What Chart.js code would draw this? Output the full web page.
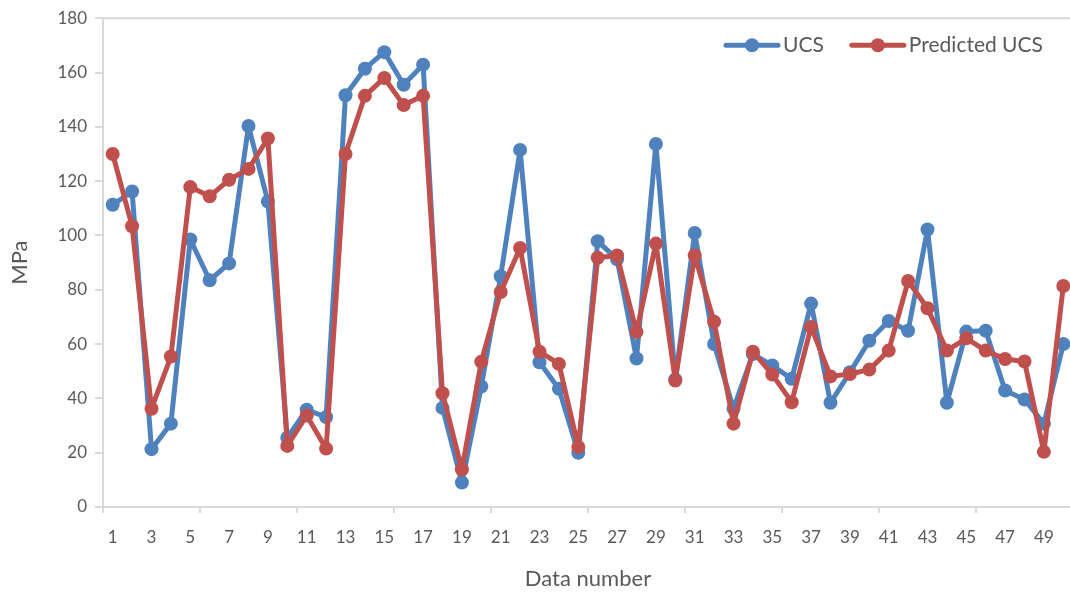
<!DOCTYPE html>
<html>
<head>
    <title>UCS vs Predicted UCS</title>
    <script src="https://cdn.jsdelivr.net/npm/chart.js"></script>
    <style>
        body { margin: 0; overflow: hidden; background: #fff; }
        #wrap { width: 1080px; height: 592px; }
    </style>
</head>
<body>
    <div id="wrap">
        <canvas id="ucsChart" width="1080" height="592"></canvas>
    </div>

    <script>
        // Data dari grafik
        const dataNumber = [1, 2, 3, 4, 5, 6, 7, 8, 9, 10, 11, 12, 13, 14, 15, 16, 17, 18, 19, 20,
            21, 22, 23, 24, 25, 26, 27, 28, 29, 30, 31, 32, 33, 34, 35, 36, 37, 38, 39, 40,
            41, 42, 43, 44, 45, 46, 47, 48, 49, 50];
        const ucs = [111.3, 116.2, 21.3, 30.7, 98.5, 83.5, 89.7, 140.3, 112.5, 25.5,
            35.8, 33.1, 151.6, 161.4, 167.5, 155.5, 162.9, 36.5, 9.0, 44.4,
            85.0, 131.5, 53.3, 43.5, 20.0, 97.9, 91.2, 54.7, 133.7, 47.0,
            100.9, 60.0, 36.2, 56.3, 52.1, 47.2, 74.9, 38.4, 49.6, 61.2,
            68.5, 64.9, 102.2, 38.4, 64.6, 64.9, 42.9, 39.6, 30.7, 60.0];
        const predictedUcs = [130.0, 103.4, 36.2, 55.4, 117.8, 114.4, 120.5, 124.5, 135.7, 22.5,
            33.7, 21.5, 130.0, 151.4, 158.0, 148.0, 151.4, 41.9, 13.8, 53.5,
            79.2, 95.4, 57.2, 52.7, 22.1, 91.8, 92.6, 64.5, 97.0, 46.6,
            92.6, 68.2, 30.7, 57.2, 48.8, 38.6, 66.3, 48.1, 49.0, 50.6,
            57.6, 83.2, 73.2, 57.6, 62.1, 57.6, 54.5, 53.6, 20.3, 81.4];

        const biru = '#4F81BD';
        const merah = '#C0504D';
        const abu = '#D9D9D9';
        const teks = '#595959';
        const huruf = 'Lato, "Liberation Sans", sans-serif';

        // garis atas area plot + legenda di pojok kanan atas
        const hiasan = {
            id: 'hiasan',
            afterDraw(chart) {
                const a = chart.chartArea;
                const c = chart.ctx;
                c.save();
                c.strokeStyle = abu;
                c.lineWidth = 2;
                c.beginPath();
                c.moveTo(a.left, a.top);
                c.lineTo(a.right, a.top);
                c.stroke();

                const y = a.top + 27;
                let x = a.right - 349;
                c.font = '21px ' + huruf;
                c.textBaseline = 'middle';
                chart.data.datasets.forEach((ds) => {
                    c.strokeStyle = ds.borderColor;
                    c.fillStyle = ds.borderColor;
                    c.lineWidth = 5;
                    c.lineCap = 'round';
                    c.beginPath();
                    c.moveTo(x + 2, y);
                    c.lineTo(x + 54, y);
                    c.stroke();
                    c.beginPath();
                    c.arc(x + 28, y, 7, 0, Math.PI * 2);
                    c.fill();
                    c.fillStyle = teks;
                    c.fillText(ds.label, x + 59, y);
                    x += 59 + c.measureText(ds.label).width + 26;
                });
                c.restore();
            }
        };

        const ctx = document.getElementById('ucsChart').getContext('2d');
        new Chart(ctx, {
            type: 'line',
            data: {
                labels: dataNumber,
                datasets: [
                    {
                        label: 'UCS',
                        data: ucs,
                        borderColor: biru,
                        backgroundColor: biru,
                        borderWidth: 5,
                        borderJoinStyle: 'round',
                        pointRadius: 7,
                        pointBorderWidth: 0,
                        pointBackgroundColor: biru,
                        tension: 0,
                        order: 1
                    },
                    {
                        label: 'Predicted UCS',
                        data: predictedUcs,
                        borderColor: merah,
                        backgroundColor: merah,
                        borderWidth: 5,
                        borderJoinStyle: 'round',
                        pointRadius: 7,
                        pointBorderWidth: 0,
                        pointBackgroundColor: merah,
                        tension: 0,
                        order: 0
                    }
                ]
            },
            options: {
                responsive: false,
                animation: false,
                layout: { padding: { top: 16, right: 4, bottom: 0, left: 0 } },
                scales: {
                    x: {
                        offset: true,
                        grid: {
                            offset: true,
                            drawOnChartArea: false,
                            tickLength: 6,
                            lineWidth: 2,
                            color: (c) => (c.index % 5 === 0 ? abu : 'rgba(0,0,0,0)')
                        },
                        border: { color: abu, width: 2 },
                        ticks: {
                            autoSkip: false,
                            maxRotation: 0,
                            padding: 14,
                            color: teks,
                            font: { family: huruf, size: 17 },
                            callback: (v, i) => (i % 2 === 0 ? dataNumber[i] : '')
                        },
                        title: {
                            display: true,
                            text: 'Data number',
                            color: teks,
                            font: { family: huruf, size: 22 },
                            padding: { top: 4, bottom: 0 }
                        },
                        afterFit: (s) => { s.height = 85; }
                    },
                    y: {
                        min: 0,
                        max: 180,
                        ticks: {
                            stepSize: 20,
                            padding: 8,
                            color: teks,
                            font: { family: huruf, size: 17 }
                        },
                        grid: {
                            drawOnChartArea: false,
                            tickLength: 8,
                            lineWidth: 2,
                            color: abu
                        },
                        border: { color: abu, width: 2 },
                        title: {
                            display: true,
                            text: 'MPa',
                            color: teks,
                            font: { family: huruf, size: 22 },
                            padding: { top: 7, bottom: 6 }
                        },
                        afterFit: (s) => { s.width = 103; }
                    }
                },
                plugins: {
                    legend: { display: false },
                    tooltip: { enabled: false }
                }
            },
            plugins: [hiasan]
        });
    </script>
</body>
</html>
